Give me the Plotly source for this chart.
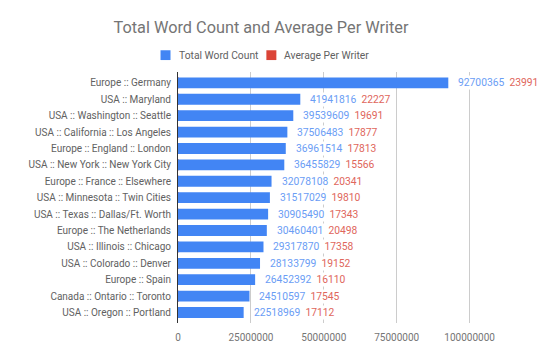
import plotly.graph_objects as go

categories = [
    "Europe :: Germany",
    "USA :: Maryland",
    "USA :: Washington :: Seattle",
    "USA :: California :: Los Angeles",
    "Europe :: England :: London",
    "USA :: New York :: New York City",
    "Europe :: France :: Elsewhere",
    "USA :: Minnesota :: Twin Cities",
    "USA :: Texas :: Dallas/Ft. Worth",
    "Europe :: The Netherlands",
    "USA :: Illinois :: Chicago",
    "USA :: Colorado :: Denver",
    "Europe :: Spain",
    "Canada :: Ontario :: Toronto",
    "USA :: Oregon :: Portland",
]
total_word_count = [92700365, 41941816, 39539609, 37506483, 36961514, 36455829,
                    32078108, 31517029, 30905490, 30460401, 29317870, 28133799,
                    26452392, 24510597, 22518969]
average_per_writer = [23991, 22227, 19691, 17877, 17813, 15566, 20341, 19810,
                      17343, 20498, 17358, 19152, 16110, 17545, 17112]
tick_values = [0, 25000000, 50000000, 75000000, 100000000]
series_names = ["Total Word Count", "Average Per Writer"]

BLUE = "#4285F4"
RED = "#DB4437"
BLUE_TXT = "#6a9df5"
RED_TXT = "#e0665c"
FONT = "Roboto"

# plot area in pixels
W, H = 540, 353
L, R, T, B = 177.5, 530, 71.7, 328

fig = go.Figure()
# red first so blue is drawn over it
fig.add_trace(go.Bar(y=categories, x=average_per_writer, orientation="h",
                     name=series_names[1], marker=dict(color=RED, line_width=0),
                     width=0.66, showlegend=False))
fig.add_trace(go.Bar(y=categories, x=total_word_count, orientation="h",
                     name=series_names[0], marker=dict(color=BLUE, line_width=0),
                     width=0.66, showlegend=False))

for c, t, a in zip(categories, total_word_count, average_per_writer):
    fig.add_annotation(
        x=t, y=c, xref="x", yref="y", xanchor="left", yanchor="middle",
        xshift=9, showarrow=False, bgcolor="white", borderpad=0,
        text=f"<span style='color:{BLUE_TXT}'>{t}</span>&nbsp;&nbsp;<span style='color:{RED_TXT}'>{a}</span>",
        font=dict(family=FONT, size=10.3),
    )

# custom legend (squares + labels), positioned in pixels
def px2x(px):
    return (px - L) / (R - L)

def py2y(py):
    return (B - py) / (B - T)

legend_items = [(series_names[0], BLUE, 160), (series_names[1], RED, 266)]
for name, col, x0 in legend_items:
    fig.add_shape(type="rect", xref="paper", yref="paper",
                  x0=px2x(x0), x1=px2x(x0 + 10), y0=py2y(59.5), y1=py2y(49.5),
                  fillcolor=col, line=dict(width=0), layer="above")
    fig.add_annotation(x=px2x(x0 + 16), y=py2y(55), xref="paper", yref="paper",
                       xanchor="left", yanchor="middle", showarrow=False,
                       text=name, font=dict(family=FONT, size=10.3, color="#616161"))

fig.update_layout(
    width=W, height=H,
    barmode="overlay",
    paper_bgcolor="white", plot_bgcolor="white",
    margin=dict(l=L, r=W - R, t=T, b=H - B),
    title=dict(text="Total Word Count and Average Per Writer",
               x=261 / W, xanchor="center", xref="container",
               y=1 - 27 / H, yanchor="middle", yref="container",
               font=dict(family=FONT, size=16.3, color="#757575")),
    showlegend=False,
    font=dict(family=FONT),
)
fig.update_xaxes(range=[0, (R - L) / 2.92 * 1e6], tickvals=tick_values,
                 ticktext=[str(v) for v in tick_values],
                 showgrid=True, gridcolor="#cccccc", gridwidth=1,
                 zeroline=False, showline=False,
                 tickfont=dict(family=FONT, size=10, color="#757575"),
                 ticks="", ticklabelstandoff=7, fixedrange=True)
fig.update_yaxes(range=[14.64, -0.663], showgrid=False, zeroline=False,
                 showline=True, linecolor="#333333", linewidth=1,
                 ticks="", ticklabelstandoff=4,
                 tickfont=dict(family=FONT, size=10, color="#616161"),
                 fixedrange=True)

fig.write_html("out.html")
